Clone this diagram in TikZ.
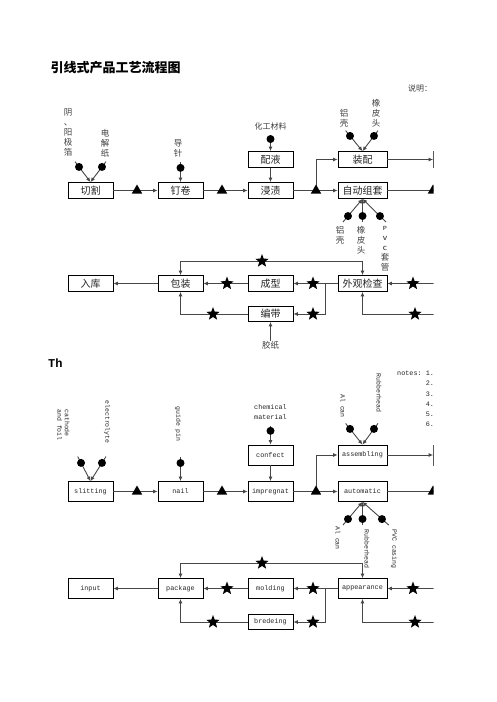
\documentclass[tikz,border=0pt]{standalone}
\usepackage{fontspec}
\setmonofont{Liberation Mono}
\newfontfamily\cjk{Noto Sans CJK SC}
\usetikzlibrary{arrows.meta,shapes.geometric,calc}
\begin{document}
\begin{tikzpicture}[x=1pt,y=-1pt,
  box/.style={draw=black,line width=0.8pt,minimum width=45pt,minimum height=16pt,inner sep=0pt,font=\cjk\fontsize{10}{10}\selectfont,text=black!85},
  wbox/.style={box,minimum width=49pt},
  ebox/.style={box,minimum height=20pt,font=\ttfamily\fontsize{6.8}{7}\selectfont},
  ewbox/.style={ebox,minimum width=49pt},
  conn/.style={draw=black!72,line width=0.9pt},
  arr/.style={conn,-{Latex[length=4.5pt,width=4pt]}},
  tri/.style={regular polygon,regular polygon sides=3,fill=black,minimum size=12pt,inner sep=0pt},
  starm/.style={star,star points=5,star point ratio=2.4,fill=black,minimum size=14pt,inner sep=0pt},
  dot/.style={circle,fill=black,minimum size=8pt,inner sep=0pt},
  vlab/.style={font=\cjk\fontsize{8.5}{10}\selectfont,align=center,text=black!75,inner sep=0pt},
  elab/.style={font=\ttfamily\fontsize{6.5}{7.5}\selectfont,rotate=-90,align=left,inner sep=0pt,text=black!85},
  hlab/.style={font=\ttfamily\fontsize{6.8}{10}\selectfont,align=center,inner sep=0pt,text=black!85},
]
\useasboundingbox (0,0) rectangle (496,702);
\fill[white] (0,0) rectangle (496,702);
\begin{scope}
\clip (0,0) rectangle (433.5,702);

% ---------------- titles ----------------
\node[anchor=west,font=\cjk\bfseries\fontsize{13}{13}\selectfont] (title) at (47,68) {引线式产品工艺流程图};
\node[vlab,font=\cjk\fontsize{8}{10}\selectfont] (shuoming) at (420,88) {说明：};
\node[anchor=west,font=\ttfamily\bfseries\fontsize{12}{12}\selectfont,inner sep=0pt] (th) at (48,363) {Th};
\node[anchor=north west,font=\ttfamily\fontsize{6.8}{10.2}\selectfont,align=left,inner sep=0pt,text=black!85] (notes) at (397,371)
  {notes: 1.\\\hphantom{notes: }2.\\\hphantom{notes: }3.\\\hphantom{notes: }4.\\\hphantom{notes: }5.\\\hphantom{notes: }6.};

% ================= Chinese chart =================
\node[box] (qg) at (90.5,190.5) {切割};
\node[box] (dj) at (180.5,190.5) {钉卷};
\node[box] (jz) at (270.5,190.5) {浸渍};
\node[box] (py) at (270.5,159.5) {配液};
\node[wbox] (zp) at (362.5,159.5) {装配};
\node[wbox] (zd) at (362.5,190.5) {自动组套};
\node[box] (nx1) at (456,159.5) {};
\coordinate (nx2) at (450,190.5);
\coordinate (b1) at (316,190.5);

\draw[arr] (qg) -- (dj);
\draw[arr] (dj) -- (jz);
\draw[arr] (jz) -- (zd);
\draw[arr] (b1) |- (zp);
\draw[arr] (zp) -- (nx1);
\draw[conn] (zd) -- (nx2);
\draw[arr] (py) -- (jz);

\node[tri] (t1) at (137,190.5) {};
\node[tri] (t2) at (222,190.5) {};
\node[tri] (t3) at (316,190.5) {};
\node[tri] (t4) at (433,190.5) {};

% inputs
\node[vlab] (lyy) at (68,132) {阴\\、\\阳\\极\\箔};
\node[vlab] (ldj) at (105,143) {电\\解\\纸};
\node[vlab] (ldz) at (178,148) {导\\针};
\node[vlab,font=\cjk\fontsize{8}{10}\selectfont] (lhg) at (270.5,126) {化工材料};
\node[vlab] (llk1) at (344,118) {铝\\壳};
\node[vlab] (lxp1) at (376,113) {橡\\皮\\头};
\node[vlab] (llk2) at (340,235) {铝\\壳};
\node[vlab] (lxp2) at (361,240) {橡\\皮\\头};
\node[vlab] (lpvc) at (385,249) {{\sffamily\bfseries\fontsize{6}{10}\selectfont P}\\{\sffamily\bfseries\fontsize{6}{10}\selectfont V}\\{\sffamily\bfseries\fontsize{6}{10}\selectfont C}\\套\\管};

\coordinate (s1) at (75,161.6);
\coordinate (s2) at (106,161.6);
\coordinate (s3) at (180.5,162);
\coordinate (s4) at (270.5,135);
\coordinate (s5) at (345.6,130.6);
\coordinate (s6) at (378,130.6);
\coordinate (s7) at (342.9,222.1);
\coordinate (s8) at (362.5,222);
\coordinate (s9) at (386.1,222.1);
\draw[arr] (s1) -- node[dot,pos=0.26] (c1) {} (qg.north);
\draw[arr] (s2) -- node[dot,pos=0.26] (c2) {} (qg.north);
\draw[arr] (s3) -- node[dot,pos=0.29] (c3) {} (dj.north);
\draw[arr] (s4) -- node[dot,pos=0.25] (c4) {} (py.north);
\draw[arr] (s5) -- node[dot,pos=0.26] (c5) {} (zp.north);
\draw[arr] (s6) -- node[dot,pos=0.26] (c6) {} (zp.north);
\draw[arr] (s7) -- node[dot,pos=0.26] (c7) {} (zd.south);
\draw[arr] (s8) -- node[dot,pos=0.26] (c8) {} (zd.south);
\draw[arr] (s9) -- node[dot,pos=0.26] (c9) {} (zd.south);

% row 2
\node[box] (rk) at (90.5,283.5) {入库};
\node[box] (bz) at (180.5,283.5) {包装};
\node[box] (cx) at (270.5,283.5) {成型};
\node[wbox] (wg) at (362.5,283.5) {外观检查};
\node[box,minimum height=15pt] (bd) at (270.5,314) {编带};
\node[vlab] (ljz) at (270.5,345) {胶纸};
\coordinate (r1) at (450,283.5);
\coordinate (r2) at (450,314);
\coordinate (br) at (325,283.5);
\coordinate (tl) at (262,261);

\draw[arr] (r1) -- (wg);
\draw[arr] (r2) -| (wg);
\draw[arr] (wg) -- (cx);
\draw[arr] (br) |- (bd);
\draw[arr] (cx) -- (bz);
\draw[arr] (bz) -- (rk);
\draw[arr] (bd) -| (bz);
\draw[arr] (tl) -| (bz);
\draw[arr] (tl) -| (wg);
\draw[arr] (ljz) -- (bd);

\node[starm] (st1) at (413,283.5) {};
\node[starm] (st2) at (415,314) {};
\node[starm] (st3) at (313,283.5) {};
\node[starm] (st4) at (313,314) {};
\node[starm] (st5) at (227,283.5) {};
\node[starm] (st6) at (213,314) {};
\node[starm] (st7) at (262,261) {};

% ================= English chart =================
\node[ebox] (sl) at (90.5,491.5) {slitting};
\node[ebox] (na) at (180.5,491.5) {nail};
\node[ebox] (im) at (270.5,491.5) {impregnat};
\node[ebox] (cf) at (270.5,455) {confect};
\node[ewbox] (as) at (362.5,455) {assembling};
\node[ewbox] (au) at (362.5,491.5) {automatic};
\node[ebox] (nx3) at (456,455) {};
\coordinate (nx4) at (450,491.5);
\coordinate (b2) at (316,491.5);

\draw[arr] (sl) -- (na);
\draw[arr] (na) -- (im);
\draw[arr] (im) -- (au);
\draw[arr] (b2) |- (as);
\draw[arr] (as) -- (nx3);
\draw[conn] (au) -- (nx4);
\draw[arr] (cf) -- (im);

\node[tri] (t5) at (137,491.5) {};
\node[tri] (t6) at (222,491.5) {};
\node[tri] (t7) at (316,491.5) {};
\node[tri] (t8) at (433,491.5) {};

\node[elab] (eca) at (63.5,425) {cathode\\and foil};
\node[elab] (eel) at (107,422) {electrolyte};
\node[elab] (egp) at (178,424) {guide pin};
\node[hlab] (ecm) at (270.5,412) {chemical\\material};
\node[elab] (eal1) at (343,406) {Al can};
\node[elab] (erh1) at (379,393) {Rubberhead};
\node[elab] (eal2) at (338,538) {Al can};
\node[elab] (erh2) at (367,549) {Rubberhead};
\node[elab] (epvc) at (394,549) {PVC casing};

\coordinate (e1) at (77.7,456.5);
\coordinate (e2) at (106,456.5);
\coordinate (e3) at (180.5,457);
\coordinate (e4) at (270.5,426);
\coordinate (e5) at (345.6,423.4);
\coordinate (e6) at (378,423.4);
\coordinate (e7) at (342.9,525.1);
\coordinate (e8) at (362.5,525);
\coordinate (e9) at (388.8,525.1);
\draw[arr] (e1) -- node[dot,pos=0.26] (d1) {} (sl.north);
\draw[arr] (e2) -- node[dot,pos=0.26] (d2) {} (sl.north);
\draw[arr] (e3) -- node[dot,pos=0.25] (d3) {} (na.north);
\draw[arr] (e4) -- node[dot,pos=0.26] (d4) {} (cf.north);
\draw[arr] (e5) -- node[dot,pos=0.26] (d5) {} (as.north);
\draw[arr] (e6) -- node[dot,pos=0.26] (d6) {} (as.north);
\draw[arr] (e7) -- node[dot,pos=0.26] (d7) {} (au.south);
\draw[arr] (e8) -- node[dot,pos=0.26] (d8) {} (au.south);
\draw[arr] (e9) -- node[dot,pos=0.26] (d9) {} (au.south);

% row 2 English
\node[ebox] (ip) at (90.5,588.5) {input};
\node[ebox] (pk) at (180.5,588.5) {package};
\node[ebox] (md) at (270.5,588.5) {molding};
\node[ewbox] (ap) at (362.5,588.5) {appearance};
\node[ebox,minimum height=15pt] (bg) at (270.5,622) {bredeing};
\coordinate (r3) at (450,588.5);
\coordinate (r4) at (450,622);
\coordinate (br2) at (325,588.5);
\coordinate (tl2) at (262,563);

\draw[arr] (r3) -- (ap);
\draw[arr] (r4) -| (ap);
\draw[arr] (ap) -- (md);
\draw[arr] (br2) |- (bg);
\draw[arr] (md) -- (pk);
\draw[arr] (pk) -- (ip);
\draw[arr] (bg) -| (pk);
\draw[arr] (tl2) -| (pk);
\draw[arr] (tl2) -| (ap);

\node[starm] (st8) at (413,588.5) {};
\node[starm] (st9) at (415,622) {};
\node[starm] (st10) at (313,588.5) {};
\node[starm] (st11) at (313,622) {};
\node[starm] (st12) at (227,588.5) {};
\node[starm] (st13) at (213,622) {};
\node[starm] (st14) at (262,563) {};
\end{scope}
\end{tikzpicture}
\end{document}
